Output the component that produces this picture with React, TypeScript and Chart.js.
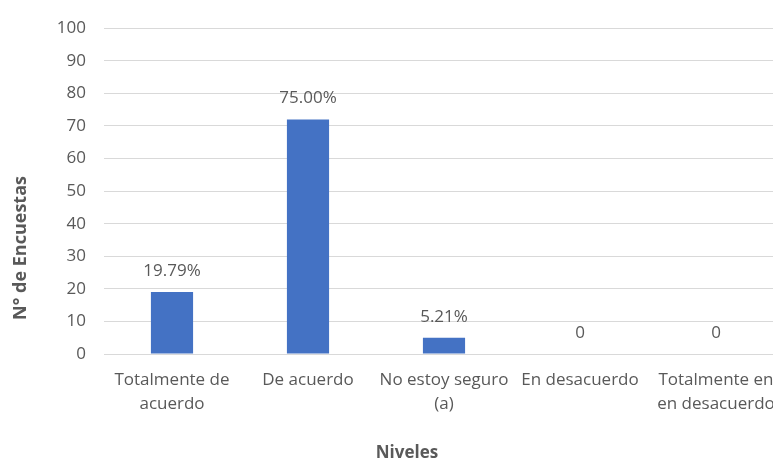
import React, { useEffect, useRef } from "react";
import { Chart, registerables } from "chart.js";

Chart.register(...registerables);

const categories: (string | string[])[] = [
  ["Totalmente de", "acuerdo"],
  "De acuerdo",
  ["No estoy seguro", "(a)"],
  "En desacuerdo",
  ["Totalmente en", "en desacuerdo"],
];
const counts = [19, 72, 5, 0, 0];
const valueLabels = ["19.79%", "75.00%", "5.21%", "0", "0"];
const yTicks = { min: 0, max: 100, step: 10 };
const xTitle = "Niveles";
const yTitle = "N° de Encuestas";

const FONT = "'Open Sans', 'Noto Sans', sans-serif";
const GRAY = "#595959";

export default function App() {
  const ref = useRef<HTMLCanvasElement | null>(null);

  useEffect(() => {
    if (!ref.current) return;
    const labelsPlugin = {
      id: "valueLabels",
      afterDatasetsDraw(chart: any) {
        const ctx = chart.ctx;
        const meta = chart.getDatasetMeta(0);
        ctx.save();
        ctx.font = `17px ${FONT}`;
        ctx.fillStyle = GRAY;
        ctx.textAlign = "center";
        ctx.textBaseline = "middle";
        meta.data.forEach((bar: any, i: number) => {
          ctx.fillText(valueLabels[i], bar.x, bar.y - 21);
        });
        ctx.restore();
      },
    };
    const titlesPlugin = {
      id: "axisTitles",
      afterDraw(chart: any) {
        const ctx = chart.ctx;
        const area = chart.chartArea;
        ctx.save();
        ctx.font = `bold 17px ${FONT}`;
        ctx.fillStyle = GRAY;
        ctx.textAlign = "center";
        ctx.textBaseline = "middle";
        ctx.fillText(xTitle, area.left + 303, area.bottom + 99);
        ctx.font = `bold 18px ${FONT}`;
        ctx.translate(21, area.bottom - 106);
        ctx.rotate(-Math.PI / 2);
        ctx.fillText(yTitle, 0, 0);
        ctx.restore();
      },
    };
    const chart = new Chart(ref.current, {
      type: "bar",
      data: {
        labels: categories,
        datasets: [
          {
            data: counts,
            backgroundColor: "#4472C4",
            borderWidth: 0,
            barPercentage: 0.31,
            categoryPercentage: 1,
          },
        ],
      },
      options: {
        responsive: false,
        animation: false,
        devicePixelRatio: 1,
        layout: { padding: { top: 23, right: 16, left: 0, bottom: 0 } },
        plugins: {
          legend: { display: false },
          tooltip: { enabled: false },
          title: { display: false },
        },
        scales: {
          x: {
            grid: { display: false, drawTicks: false },
            border: { display: true, color: "#d9d9d9", width: 1 },
            ticks: {
              color: GRAY,
              font: { family: FONT, size: 17, lineHeight: 1.41 },
              padding: 14,
              maxRotation: 0,
              autoSkip: false,
            },
            afterFit(scale: any) {
              scale.height = 108;
            },
          },
          y: {
            min: yTicks.min,
            max: yTicks.max,
            grid: { color: "#d9d9d9", lineWidth: 1, drawTicks: false },
            border: { display: false },
            ticks: {
              stepSize: yTicks.step,
              color: GRAY,
              font: { family: FONT, size: 17 },
              padding: 18,
            },
            afterFit(scale: any) {
              scale.width = 104;
            },
          },
        },
      },
      plugins: [labelsPlugin, titlesPlugin],
    });
    return () => chart.destroy();
  }, []);

  return (
    <div
      style={{
        position: "fixed",
        left: 0,
        top: 0,
        width: 773,
        height: 462,
        overflow: "hidden",
        background: "#fff",
      }}
    >
      <canvas ref={ref} width={800} height={462} style={{ display: "block" }} />
    </div>
  );
}
